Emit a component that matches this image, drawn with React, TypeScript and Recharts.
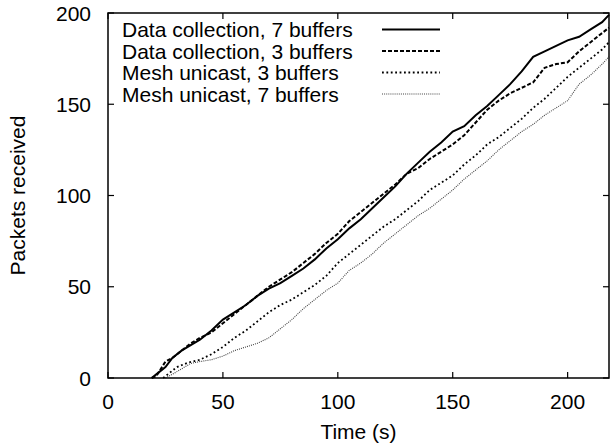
import { LineChart, Line, XAxis, YAxis } from "recharts";

// received-packet counts over time, one pair of arrays per run
const dc7Time = [19, 21, 25, 28, 32, 36, 40, 45, 50, 55, 60, 65, 70, 75, 80, 85, 90, 95, 100, 105, 110, 115, 120, 125, 130, 135, 140, 145, 150, 155, 160, 165, 170, 175, 180, 185, 190, 195, 200, 205, 210, 215, 218];
const dc7Count = [0, 2, 6, 11, 15, 18, 21, 26, 32, 36, 40, 45, 49, 52, 56, 60, 65, 71, 76, 82, 87, 93, 99, 105, 112, 118, 124, 129, 135, 138, 144, 149, 155, 161, 168, 176, 179, 182, 185, 187, 191, 195, 199];

const dc3Time = [19, 21, 25, 28, 32, 36, 40, 45, 50, 55, 60, 65, 70, 75, 80, 85, 90, 95, 100, 105, 110, 115, 120, 125, 130, 135, 140, 145, 150, 155, 160, 165, 170, 175, 180, 185, 190, 195, 200, 205, 210, 215, 218];
const dc3Count = [0, 1, 9, 11, 15, 19, 22, 25, 30, 35, 40, 45, 50, 54, 58, 63, 68, 74, 79, 86, 91, 96, 101, 106, 112, 115, 120, 124, 128, 133, 140, 147, 152, 156, 159, 162, 170, 172, 173, 179, 184, 189, 192];

const mu3Time = [24, 27, 30, 35, 40, 45, 50, 55, 60, 65, 70, 75, 80, 85, 90, 95, 100, 105, 110, 115, 120, 125, 130, 135, 140, 145, 150, 155, 160, 165, 170, 175, 180, 185, 190, 195, 200, 205, 210, 215, 218];
const mu3Count = [0, 3, 6, 8.5, 10, 13, 17, 22, 26, 31, 36, 40, 43, 47, 51, 56, 63, 68, 73, 78, 83, 87, 92, 97, 103, 107, 111, 117, 122, 128, 132, 137, 142, 148, 153, 159, 165, 170, 175, 180, 184];

const mu7Time = [25, 28, 32, 36, 40, 45, 50, 55, 60, 65, 70, 75, 80, 85, 90, 95, 100, 105, 110, 115, 120, 125, 130, 135, 140, 145, 150, 155, 160, 165, 170, 175, 180, 185, 190, 195, 200, 205, 210, 215, 218];
const mu7Count = [0, 2, 5, 8, 9, 10, 12, 15, 17, 19, 22, 27, 32, 38, 43, 48, 52, 59, 63, 68, 74, 79, 84, 89, 93, 98, 103, 109, 114, 119, 125, 130, 135, 139, 144, 148, 152, 161, 166, 172, 176];

const xTicks = [0, 50, 100, 150, 200];
const yTicks = [0, 50, 100, 150, 200];
const X_MAX = 218;
const Y_MAX = 200;

const font = "'Liberation Sans', Arial, Helvetica, sans-serif";
const TICK = 6;

// plot box, from the chart margins and axis sizes below
const W = 610;
const H = 446;
const M_TOP = 13;
const M_RIGHT = 1;
const Y_AXIS_W = 108;
const X_AXIS_H = 68;
const plotLeft = Y_AXIS_W;
const plotRight = W - M_RIGHT;
const plotTop = M_TOP;
const plotBottom = H - X_AXIS_H;
const px = (t: number) => plotLeft + (t / X_MAX) * (plotRight - plotLeft);
const py = (v: number) => plotBottom - (v / Y_MAX) * (plotBottom - plotTop);

const series = [
  { key: "dc7", name: "Data collection, 7 buffers", time: dc7Time, count: dc7Count, color: "#000", width: 2, dash: undefined },
  { key: "dc3", name: "Data collection, 3 buffers", time: dc3Time, count: dc3Count, color: "#000", width: 2, dash: "4 2" },
  { key: "mu3", name: "Mesh unicast, 3 buffers", time: mu3Time, count: mu3Count, color: "#000", width: 1.8, dash: "1.8 2.6" },
  { key: "mu7", name: "Mesh unicast, 7 buffers", time: mu7Time, count: mu7Count, color: "#444", width: 1.1, dash: "1 1.1" },
];

// one table keyed by time; each run fills its own column
const allTimes = Array.from(new Set(series.flatMap((s) => s.time))).sort((a, b) => a - b);
const table = allTimes.map((t) => {
  const row: Record<string, number> = { t };
  series.forEach((s) => {
    const i = s.time.indexOf(t);
    if (i >= 0) row[s.key] = s.count[i];
  });
  return row;
});

const BottomTick = (props: any) => {
  const { x, y, payload } = props;
  return (
    <text x={x} y={y + 29} textAnchor="middle" fontSize={21} fontFamily={font} fill="#000">
      {payload.value}
    </text>
  );
};

const LeftTick = (props: any) => {
  const { x, y, payload } = props;
  return (
    <text x={x - 15} y={y + 7.5} textAnchor="end" fontSize={21} fontFamily={font} fill="#000">
      {payload.value}
    </text>
  );
};

// frame, inward ticks, key box and axis titles, laid over the chart
const Overlay = () => (
  <svg width={W} height={H} style={{ position: "absolute", left: 0, top: 0, pointerEvents: "none" }}>
    <rect x={plotLeft} y={plotTop} width={plotRight - plotLeft} height={plotBottom - plotTop} fill="none" stroke="#000" strokeWidth={1.5} />
    {xTicks.map((t) => (
      <g key={"xt" + t}>
        <line x1={px(t)} x2={px(t)} y1={plotBottom} y2={plotBottom - TICK} stroke="#000" strokeWidth={1.2} />
        <line x1={px(t)} x2={px(t)} y1={plotTop} y2={plotTop + TICK} stroke="#000" strokeWidth={1.2} />
      </g>
    ))}
    {yTicks.map((v) => (
      <g key={"yt" + v}>
        <line x1={plotLeft} x2={plotLeft + TICK} y1={py(v)} y2={py(v)} stroke="#000" strokeWidth={1.2} />
        <line x1={plotRight} x2={plotRight - TICK} y1={py(v)} y2={py(v)} stroke="#000" strokeWidth={1.2} />
      </g>
    ))}
    {series.map((s, i) => {
      const base = 37 + i * 21.5;
      return (
        <g key={s.key}>
          <text x={122} y={base} fontSize={21} fontFamily={font} fill="#000">
            {s.name}
          </text>
          <line x1={382} x2={440} y1={base - 7.5} y2={base - 7.5} stroke={s.color} strokeWidth={s.width} strokeDasharray={s.dash} />
        </g>
      );
    })}
    <text x={25} y={195.5} transform="rotate(-90 25 195.5)" textAnchor="middle" fontSize={21} fontFamily={font} fill="#000">
      Packets received
    </text>
    <text x={358.5} y={439} textAnchor="middle" fontSize={21} fontFamily={font} fill="#000">
      Time (s)
    </text>
  </svg>
);

export default function App() {
  return (
    <div style={{ position: "absolute", left: 0, top: 0, width: W, height: H }}>
      <LineChart width={W} height={H} data={table} margin={{ top: M_TOP, right: M_RIGHT, bottom: 0, left: 0 }}>
        <XAxis
          dataKey="t"
          type="number"
          domain={[0, X_MAX]}
          ticks={xTicks}
          interval={0}
          height={X_AXIS_H}
          tickSize={0}
          axisLine={false}
          tickLine={false}
          tick={<BottomTick />}
        />
        <YAxis
          domain={[0, Y_MAX]}
          ticks={yTicks}
          interval={0}
          width={Y_AXIS_W}
          tickSize={0}
          axisLine={false}
          tickLine={false}
          tick={<LeftTick />}
        />
        {series.map((s) => (
          <Line
            key={s.key}
            name={s.name}
            dataKey={s.key}
            type="linear"
            connectNulls
            stroke={s.color}
            strokeWidth={s.width}
            strokeDasharray={s.dash}
            dot={false}
            isAnimationActive={false}
          />
        ))}
      </LineChart>
      <Overlay />
    </div>
  );
}
